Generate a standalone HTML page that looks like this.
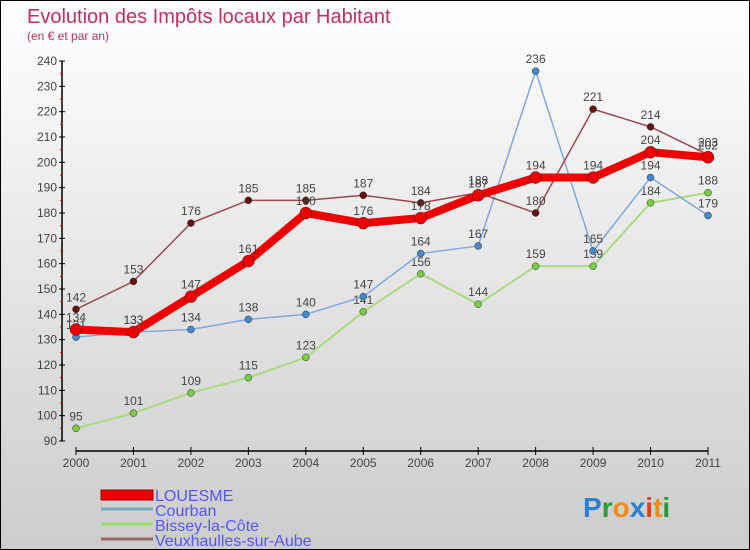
<!DOCTYPE html>
<html><head><meta charset="utf-8"><style>
body{margin:0}
#c{width:750px;height:550px;position:relative;box-sizing:border-box;border:1px solid #000;background:linear-gradient(#fff,#ccc);font-family:"Liberation Sans",sans-serif;overflow:hidden}
</style></head><body>
<div id="c">
<svg id="s" width="750" height="550" style="position:absolute;left:0;top:0" font-family="Liberation Sans, sans-serif">
<text x="26" y="22" font-size="20" fill="#c0305a">Evolution des Impôts locaux par Habitant</text>
<text x="26" y="39" font-size="12" fill="#c0305a">(en € et par an)</text>
<g id="axes"></g><g id="series"></g>
<g>
<rect x="100" y="489" width="52" height="10" fill="#e00" stroke="#a00"/>
<text x="154" y="500" font-size="16" fill="#55f">LOUESME</text>
<line x1="100" y1="508" x2="152" y2="508" stroke="#7ab" stroke-width="3"/>
<text x="154" y="515" font-size="16" fill="#55f">Courban</text>
<line x1="100" y1="523" x2="152" y2="523" stroke="#9d7" stroke-width="3"/>
<text x="154" y="530" font-size="16" fill="#55f">Bissey-la-Côte</text>
<line x1="100" y1="538" x2="152" y2="538" stroke="#966" stroke-width="3"/>
<text x="154" y="545" font-size="16" fill="#55f">Veuxhaulles-sur-Aube</text>
</g>
<text x="582" y="516" font-size="28" font-weight="bold"><tspan fill="#2a7fd4">P</tspan><tspan fill="#2a9a3a">r</tspan><tspan fill="#f08a1a">o</tspan><tspan fill="#2a7fd4">x</tspan><tspan fill="#e04020">i</tspan><tspan fill="#f08a1a">t</tspan><tspan fill="#2a9a3a">i</tspan></text>
</svg></div>
<script>
const years=["2000","2001","2002","2003","2004","2005","2006","2007","2008","2009","2010","2011"];
const yTicks=[90,100,110,120,130,140,150,160,170,180,190,200,210,220,230,240];
const louesme=[134,133,147,161,180,176,178,187,194,194,204,202];
const courban=[131,133,134,138,140,147,164,167,236,165,194,179];
const bissey=[95,101,109,115,123,141,156,144,159,159,184,188];
const veux=[142,153,176,185,185,187,184,188,180,221,214,203];
const NS="http://www.w3.org/2000/svg";
const X=i=>75+i*(632/11);
const Y=v=>440-(v-90)*(380/150);
function mk(t,a,p){const e=document.createElementNS(NS,t);for(const k in a)e.setAttribute(k,a[k]);p.appendChild(e);return e;}
const ax=document.getElementById('axes');
let e=mk('line',{x1:61,y1:60,x2:61,y2:440,stroke:'#000','stroke-width':1.5},ax);


yTicks.forEach(v=>{mk('line',{x1:58,y1:Y(v),x2:64,y2:Y(v),stroke:'#000'},ax);
 if(v<240)mk('line',{x1:59,y1:Y(v+5),x2:62,y2:Y(v+5),stroke:'#e00'},ax);
 const t=mk('text',{x:56,y:Y(v)+4,'font-size':12,'text-anchor':'end',fill:'#444'},ax);t.textContent=v;
 
 });
e=mk('line',{x1:75,y1:450,x2:707,y2:450,stroke:'#000','stroke-width':1.5},ax);


years.forEach((y,i)=>{mk('line',{x1:X(i),y1:446,x2:X(i),y2:454,stroke:'#000'},ax);
 const t=mk('text',{x:X(i),y:466,'font-size':12,'text-anchor':'middle',fill:'#444'},ax);t.textContent=y;
 
 });
const sg=document.getElementById('series');
function draw(name,vals,col,dot,w,r){
 const g=mk('g',{},sg);
 
 
 const l=mk('polyline',{points:vals.map((v,i)=>X(i)+','+Y(v)).join(' '),fill:'none',stroke:col,'stroke-width':w,'stroke-linejoin':'round'},g);
 
 
 vals.forEach((v,i)=>{const c=mk('circle',{cx:X(i),cy:Y(v),r:r,fill:dot,stroke:'#333','stroke-width':0.5},g);
  
  
  const t=mk('text',{x:X(i),y:Y(v)-8,'font-size':12,'text-anchor':'middle',fill:'#444'},g);t.textContent=v;
  
  });
}
draw('bissey',bissey,'#a8dc80','#7c4',2,3.5);
draw('courban',courban,'#80aadd','#48c',1.5,3.5);
draw('veux',veux,'#9a4a50','#611',1.5,3.5);
draw('louesme',louesme,'#e00','#e00',8,6);
</script>
</body></html>
